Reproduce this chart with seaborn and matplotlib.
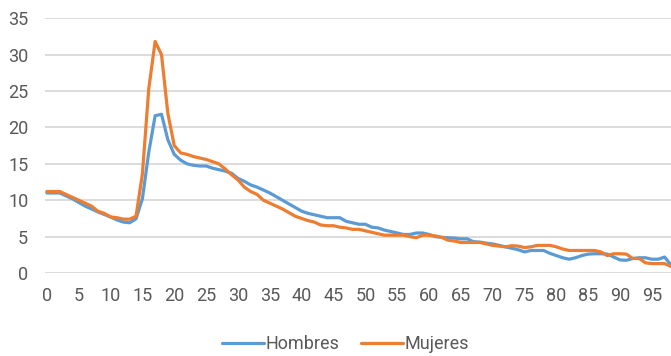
import numpy as np
import pandas as pd
import matplotlib
matplotlib.use("Agg")
import matplotlib.pyplot as plt
import seaborn as sns

edades = list(range(0, 99))

hombres = [11.0, 11.0, 11.0, 10.6, 10.2, 9.7, 9.2, 8.8, 8.4, 8.05,
           7.7, 7.3, 7.0, 6.9, 7.45, 10.2, 16.6, 21.6, 21.8, 18.3,
           16.3, 15.5, 15.0, 14.8, 14.7, 14.7, 14.4, 14.2, 14.0, 13.7,
           13.0, 12.6, 12.1, 11.8, 11.4, 11.0, 10.5, 10.0, 9.5, 9.0,
           8.5, 8.2, 8.0, 7.8, 7.6, 7.6, 7.6, 7.1, 6.9, 6.7,
           6.7, 6.3, 6.2, 5.9, 5.7, 5.5, 5.3, 5.3, 5.5, 5.5,
           5.3, 5.0, 4.9, 4.85, 4.8, 4.7, 4.7, 4.3, 4.25, 4.1,
           4.0, 3.8, 3.6, 3.4, 3.2, 2.9, 3.1, 3.1, 3.1, 2.7,
           2.4, 2.1, 1.9, 2.1, 2.4, 2.6, 2.65, 2.65, 2.6, 2.2,
           1.8, 1.75, 2.0, 2.1, 2.1, 1.9, 1.9, 2.2, 1.1]

mujeres = [11.2, 11.2, 11.2, 10.8, 10.4, 10.0, 9.6, 9.2, 8.5, 8.2,
           7.7, 7.6, 7.4, 7.4, 7.8, 13.6, 25.3, 31.8, 30.0, 21.9,
           17.5, 16.5, 16.3, 16.0, 15.8, 15.6, 15.3, 15.0, 14.3, 13.5,
           12.8, 11.8, 11.2, 10.8, 10.0, 9.6, 9.2, 8.8, 8.3, 7.8,
           7.5, 7.2, 7.0, 6.6, 6.5, 6.5, 6.3, 6.2, 6.0, 6.0,
           5.8, 5.6, 5.4, 5.2, 5.2, 5.2, 5.2, 5.0, 4.85, 5.2,
           5.2, 5.1, 4.9, 4.5, 4.4, 4.2, 4.2, 4.2, 4.2, 4.0,
           3.8, 3.7, 3.6, 3.75, 3.7, 3.5, 3.6, 3.8, 3.8, 3.8,
           3.6, 3.3, 3.1, 3.1, 3.1, 3.1, 3.1, 2.9, 2.4, 2.65,
           2.65, 2.6, 2.0, 2.0, 1.4, 1.3, 1.3, 1.3, 0.9]

df = pd.DataFrame({
    "edad": edades * 2,
    "valor": hombres + mujeres,
    "sexo": ["Hombres"] * len(edades) + ["Mujeres"] * len(edades),
})

sns.set_theme(style="white")
plt.rcParams["font.family"] = ["Roboto", "DejaVu Sans"]

fig = plt.figure(figsize=(6.71, 3.56), dpi=100)
ax = fig.add_axes([0.067, 0.233, 0.933, 0.716])

sns.lineplot(data=df, x="edad", y="valor", hue="sexo",
             palette={"Hombres": "#5B9BD5", "Mujeres": "#ED7D31"},
             linewidth=2.3, ax=ax)

ax.set_xlim(-0.3, 98)
ax.set_ylim(0, 35)
ax.set_xticks(range(0, 96, 5))
ax.set_yticks(range(0, 36, 5))
ax.yaxis.grid(True, color="#D9D9D9", linewidth=1.3)
ax.set_axisbelow(True)
for s in ax.spines.values():
    s.set_visible(False)
ax.tick_params(axis="both", length=0, labelsize=13, colors="#595959")
ax.tick_params(axis="x", pad=10)
ax.tick_params(axis="y", pad=12)
ax.set_xlabel("")
ax.set_ylabel("")

handles, labels = ax.get_legend_handles_labels()
ax.legend(handles, labels, loc="upper center", bbox_to_anchor=(0.48, -0.18),
          ncol=2, frameon=False, fontsize=13, handlelength=2.3,
          handletextpad=0.1, columnspacing=1.2, labelcolor="#595959")

fig.savefig("out.png", dpi=100)
